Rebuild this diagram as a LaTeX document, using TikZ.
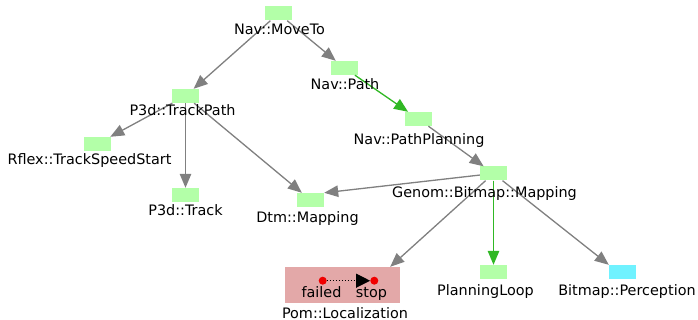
\documentclass[tikz,border=0pt]{standalone}
\usepackage{fontspec}
\setmainfont{DejaVu Sans}
\usetikzlibrary{arrows.meta}
\definecolor{taskgreen}{HTML}{B3FFA8}
\definecolor{taskcyan}{HTML}{70F2FF}
\definecolor{failpink}{HTML}{E3A8A8}
\definecolor{edgegray}{HTML}{808080}
\definecolor{edgegreen}{HTML}{30B824}
\definecolor{evred}{HTML}{F00000}
\tikzset{
  x=1pt, y=-1pt,
  task/.style={rectangle, fill=taskgreen, minimum width=27pt, minimum height=14pt, inner sep=0pt},
  percep/.style={task, fill=taskcyan},
  tlabel/.style={anchor=base, inner sep=0pt, font=\fontsize{14.4}{17}\selectfont},
  dep/.style={draw=edgegray, line width=1.3pt, -{Triangle[length=14pt,width=11.5pt]}, fill=edgegray},
  plan/.style={draw=edgegreen, line width=1.3pt, -{Triangle[length=14pt,width=11.5pt]}, fill=edgegreen},
  evdot/.style={circle, fill=evred, minimum size=8pt, inner sep=0pt},
}
\begin{document}
\begin{tikzpicture}
\useasboundingbox (0,0) rectangle (698,320);

% tasks
\node[task] (moveto) at (278.5,13.5) {};
\node[task] (path) at (344.5,68) {};
\node[task] (trackpath) at (185.5,96) {};
\node[task] (rflex) at (97,144) {};
\node[task] (track) at (185.5,195) {};
\node[task] (dtm) at (310.5,200) {};
\node[task] (planning) at (418.5,119) {};
\node[task] (genom) at (493.5,173.5) {};
\node[task] (loop) at (493.5,272) {};
\node[percep] (percep) at (622.5,272) {};
\node[rectangle, fill=failpink, minimum width=115pt, minimum height=36pt, inner sep=0pt] (pom) at (342.5,285) {};

% dependencies
\draw[dep] (moveto) -- (trackpath);
\draw[dep] (moveto) -- (path);
\draw[plan] (path) -- (planning);
\draw[dep] (trackpath) -- (rflex);
\draw[dep] (trackpath) -- (track);
\draw[dep] (trackpath) -- (dtm);
\draw[dep] (planning) -- (genom);
\draw[dep] (genom) -- (dtm.north east);
\draw[dep] (genom) -- ([xshift=-10pt]pom.north east);
\draw[plan] (genom) -- (loop);
\draw[dep] (genom) -- (percep.north west);

% task labels
\node[tlabel] (lmoveto) at (279.5,35) {Nav::MoveTo};
\node[tlabel] (lpath) at (345,90) {Nav::Path};
\node[tlabel] (ltrackpath) at (182.5,116) {P3d::TrackPath};
\node[tlabel] (lrflex) at (89.5,165) {Rflex::TrackSpeedStart};
\node[tlabel] (ltrack) at (185.5,216) {P3d::Track};
\node[tlabel] (ldtm) at (307.5,223) {Dtm::Mapping};
\node[tlabel] (lplanning) at (419,145) {Nav::PathPlanning};
\node[tlabel] (lgenom) at (484.5,198) {Genom::Bitmap::Mapping};
\node[tlabel] (lloop) at (485.5,295) {PlanningLoop};
\node[tlabel] (lpercep) at (627,295) {Bitmap::Perception};
\node[tlabel] (lpom) at (345,318) {Pom::Localization};

% events inside the localization task
\node[evdot] (failed) at (322.7,280.7) {};
\node[evdot] (stop) at (374.3,280.7) {};
\node[tlabel] (lfailed) at (321.5,297) {failed};
\node[tlabel] (lstop) at (371.5,297) {stop};
\draw[line width=1pt, dotted, -{Triangle[length=14pt,width=14pt]}] (failed) -- (stop);
\end{tikzpicture}
\end{document}
